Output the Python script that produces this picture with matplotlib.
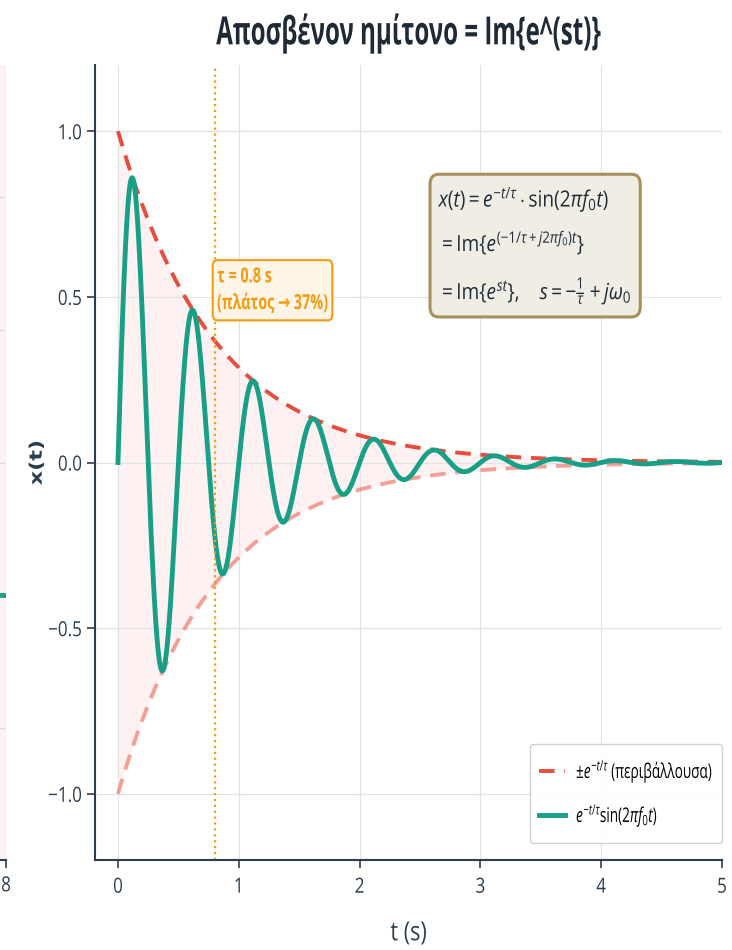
import numpy as np
import matplotlib
matplotlib.use("Agg")
import matplotlib.pyplot as plt
from matplotlib.patheffects import AbstractPathEffect
from matplotlib.transforms import Affine2D

# ---- parameters of the damped sine ----
TAU = 0.8          # time constant (s)
F0 = 2.0           # oscillation frequency (Hz)
T_END = 5.0        # plotted duration (s)
N_SAMPLES = 2000

# neighbouring panel (only its right edge shows)
side_t = [7.0, 7.5, 8.0]
side_y = [-0.2, -0.2, -0.2]

x_ticks = [0, 1, 2, 3, 4, 5]
y_ticks = [-1.0, -0.5, 0.0, 0.5, 1.0]

TEAL = "#17a086"
RED = "#e74c3c"
ORANGE = "#f39c12"
DARK = "#2c3e50"
FONT = "Open Sans"

plt.rcParams["font.family"] = [FONT, "DejaVu Sans"]
plt.rcParams["mathtext.fontset"] = "custom"
plt.rcParams["mathtext.rm"] = FONT
plt.rcParams["mathtext.it"] = FONT + ":italic"
plt.rcParams["mathtext.bf"] = FONT + ":bold"
plt.rcParams["mathtext.sf"] = FONT


class HSquish(AbstractPathEffect):
    """Draw a path compressed horizontally about a vertical anchor line."""

    def __init__(self, factor, anchor_fn):
        super().__init__()
        self.factor = factor
        self.anchor_fn = anchor_fn

    def draw_path(self, renderer, gc, tpath, affine, rgbFace=None):
        cx = self.anchor_fn()
        tr = affine + Affine2D().translate(-cx, 0).scale(self.factor, 1).translate(cx, 0)
        renderer.draw_path(gc, tpath, tr, rgbFace)


def text_anchor(txt):
    return lambda: txt.get_transform().transform(txt.get_unitless_position())[0]


def squish_text(txt, factor):
    eff = [HSquish(factor, text_anchor(txt))]
    txt.set_path_effects(eff)
    patch = txt.get_bbox_patch()
    if patch is not None:
        patch.set_path_effects(eff)


t = np.linspace(0.0, T_END, N_SAMPLES)
env = np.exp(-t / TAU)
x = env * np.sin(2 * np.pi * F0 * t)

fig = plt.figure(figsize=(7.32, 9.5), dpi=100)

# ---- neighbouring panel ----
axl = fig.add_axes([-0.6, 0.0947, 0.6082, 0.8369])
axl.fill_between([0, 8], [-0.6, -0.6], [0.6, 0.6], color=RED, alpha=0.07, lw=0)
axl.plot(side_t, side_y, color=TEAL, lw=3.5)
axl.set_xlim(0, 8)
axl.set_ylim(-0.6, 0.6)
axl.set_yticks([-0.4, -0.2, 0.0, 0.2, 0.4])
axl.set_xticks([8])
axl.grid(True, color="#dddddd", lw=0.8)
for s in ["top", "right", "left"]:
    axl.spines[s].set_visible(False)
axl.spines["bottom"].set_color(DARK)
axl.spines["bottom"].set_linewidth(1.5)
axl.tick_params(axis="x", labelsize=15, colors=DARK, length=6, width=1.2, pad=5)
axl.tick_params(axis="y", left=False, labelleft=False)

# ---- main panel ----
ax = fig.add_axes([0.1298, 0.0947, 0.8566, 0.8369])
ax.fill_between(t, -env, env, color=RED, alpha=0.07, lw=0)
ax.plot(t, env, color=RED, lw=2.8, ls=(0, (4, 2.5)),
        label=r"$\pm e^{-t/\tau}$ (περιβάλλουσα)")
ax.plot(t, -env, color=RED, lw=2.8, ls=(0, (4, 2.5)), alpha=0.5)
ax.plot(t, x, color=TEAL, lw=3.5, label=r"$e^{-t/\tau}\sin(2\pi f_0 t)$")
ax.axvline(TAU, color=ORANGE, lw=1.6, ls=":")

note = ax.text(TAU + 0.02, 0.52, "τ = 0.8 s\n(πλάτος → 37%)", color=ORANGE,
               fontsize=15, fontweight="bold", ha="left", va="center",
               linespacing=1.35, family=[FONT, "DejaVu Sans"],
               bbox=dict(boxstyle="round,pad=0.3", fc="#fef5e7", ec=ORANGE, lw=1.5))
squish_text(note, 0.69)

formula = (r"$x(t) = e^{-t/\tau}\cdot\sin(2\pi f_0 t)$" "\n"
           r"$= \mathrm{Im}\{e^{(-1/\tau + j2\pi f_0)t}\}$" "\n"
           r"$= \mathrm{Im}\{e^{st}\},\quad s = -\frac{1}{\tau} + j\omega_0$")
ftxt = ax.text(0.548, 0.85, formula, transform=ax.transAxes, fontsize=16,
               ha="left", va="top", color="#1f2d3a", linespacing=1.68,
               bbox=dict(boxstyle="round,pad=0.45", fc="#f0ede4", ec="#a88f5e", lw=2.2))
squish_text(ftxt, 0.86)

ax.set_xlim(-0.19, T_END)
ax.set_ylim(-1.2, 1.2)
ax.set_xticks(x_ticks)
ax.set_yticks(y_ticks)
ax.set_yticklabels([f"{v:.1f}".replace("-", "\u2212") for v in y_ticks])
ax.grid(True, color="#e3e3e3", lw=0.9)
for s in ["top", "right"]:
    ax.spines[s].set_visible(False)
for s in ["left", "bottom"]:
    ax.spines[s].set_color(DARK)
    ax.spines[s].set_linewidth(1.5)
ax.tick_params(labelsize=15, colors=DARK, length=6, width=1.2)
ax.tick_params(axis="x", pad=6)
xl = ax.set_xlabel("t (s)", fontsize=19, color=DARK)
yl = ax.set_ylabel("x(t)", fontsize=16, color=DARK, family="DejaVu Sans",
                   fontweight="bold")
ax.xaxis.set_label_coords(0.5, -0.077)
ax.yaxis.set_label_coords(-0.08, 0.5)
squish_text(xl, 0.82)
squish_text(yl, 0.78)

for tk in ax.xaxis.get_major_ticks() + ax.yaxis.get_major_ticks() + axl.xaxis.get_major_ticks():
    squish_text(tk.label1, 0.82)

leg = ax.legend(loc="lower right", bbox_to_anchor=(1.0, 0.021), borderaxespad=0,
                fontsize=14.5, frameon=True, framealpha=0.9, edgecolor="#cccccc",
                handlelength=1.9, borderpad=0.7, labelspacing=0.85)
leg_anchor = lambda: ax.transAxes.transform((1.0, 0.0))[0]
leg_eff = [HSquish(0.675, leg_anchor)]
leg.legendPatch.set_path_effects(leg_eff)
for item in list(leg.get_texts()) + list(leg.legend_handles):
    item.set_path_effects(leg_eff)

title = fig.suptitle("Αποσβένον ημίτονο = Im{e^(st)}", x=0.558, y=0.987,
                     fontsize=28, fontweight="bold", color="#1f2a36")
squish_text(title, 0.62)

fig.savefig("out.png", dpi=100)
